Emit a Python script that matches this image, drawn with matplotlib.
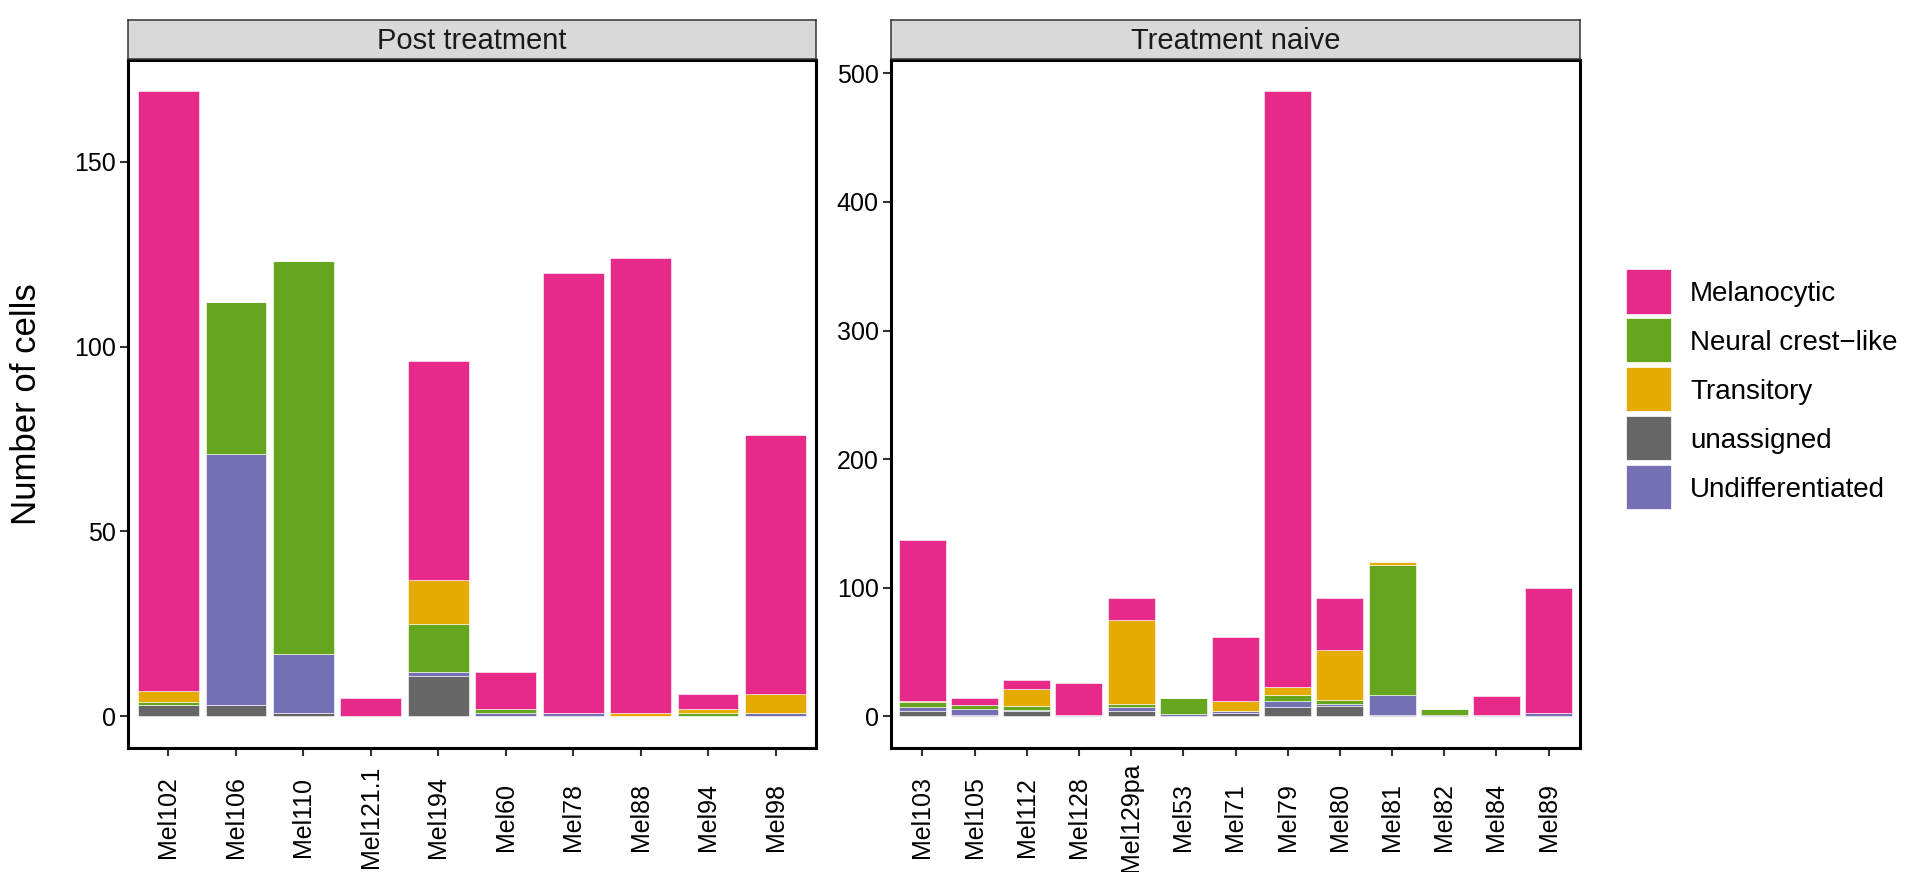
import matplotlib
matplotlib.use("Agg")
import matplotlib.pyplot as plt
from matplotlib.patches import Rectangle

plt.rcParams['font.family'] = ['Liberation Sans', 'DejaVu Sans']

# ---------------- data ----------------
cell_types = ["Melanocytic", "Neural crest\u2212like", "Transitory", "unassigned", "Undifferentiated"]
colors = ["#E7298A", "#66A61E", "#E6AB02", "#666666", "#7570B3"]
stack_order = ["unassigned", "Undifferentiated", "Neural crest\u2212like", "Transitory", "Melanocytic"]

post_samples = ["Mel102", "Mel106", "Mel110", "Mel121.1", "Mel194", "Mel60", "Mel78", "Mel88", "Mel94", "Mel98"]
post_unassigned = [3, 3, 1, 0, 11, 0, 0, 0, 0, 0]
post_undiff     = [0, 68, 16, 0, 1, 1, 1, 0, 0, 1]
post_neural     = [1, 41, 106, 0, 13, 1, 0, 0, 1, 0]
post_transitory = [3, 0, 0, 0, 12, 0, 0, 1, 1, 5]
post_melano     = [162, 0, 0, 5, 59, 10, 119, 123, 4, 70]

naive_samples = ["Mel103", "Mel105", "Mel112", "Mel128", "Mel129pa", "Mel53", "Mel71", "Mel79", "Mel80", "Mel81", "Mel82", "Mel84", "Mel89"]
naive_unassigned = [4, 1, 4, 0, 4, 0, 3, 7, 8, 1, 0, 0, 0]
naive_undiff     = [3, 5, 1, 1, 3, 2, 1, 5, 2, 16, 1, 1, 3]
naive_neural     = [4, 3, 3, 0, 3, 12, 0, 5, 3, 101, 5, 0, 0]
naive_transitory = [1, 0, 13, 0, 65, 0, 8, 6, 39, 2, 0, 0, 0]
naive_melano     = [125, 5, 7, 25, 17, 0, 50, 463, 40, 0, 0, 15, 97]

panels = [
    ("Post treatment", post_samples, {
        "unassigned": post_unassigned, "Undifferentiated": post_undiff,
        "Neural crest\u2212like": post_neural, "Transitory": post_transitory,
        "Melanocytic": post_melano}, [0, 50, 100, 150]),
    ("Treatment naive", naive_samples, {
        "unassigned": naive_unassigned, "Undifferentiated": naive_undiff,
        "Neural crest\u2212like": naive_neural, "Transitory": naive_transitory,
        "Melanocytic": naive_melano}, [0, 100, 200, 300, 400, 500]),
]

color_of = dict(zip(cell_types, colors))

W, H = 1907, 872
fig = plt.figure(figsize=(W / 100, H / 100), dpi=100)

def fx(px):
    return px / W

def fy(py):
    return 1 - py / H

PT = 0.72  # points per pixel at 100 dpi

boxes = [(128, 816), (891, 1580)]
top_px, bot_px = 60, 747.7
strip_top = 20
tick_len_px = 8
label_center_px = 817

for (title, samples, data, yticks), (x0, x1) in zip(panels, boxes):
    ax = fig.add_axes([fx(x0), fy(bot_px), fx(x1) - fx(x0), fy(top_px) - fy(bot_px)])
    n = len(samples)
    xs = list(range(1, n + 1))
    bottom = [0] * n
    for ct in stack_order:
        vals = data[ct]
        ax.bar(xs, vals, width=0.9, bottom=bottom, color=color_of[ct],
               edgecolor="white", linewidth=0.4)
        bottom = [b + v for b, v in zip(bottom, vals)]
    total_max = max(bottom)
    pad = total_max * 0.05
    ax.set_ylim(-pad, total_max + pad)
    ax.set_xlim(0.4, n + 0.6)
    ax.set_xticks(xs)
    ax.set_xticklabels(samples, rotation=90, fontsize=18, color="black")
    for lab in ax.get_xticklabels():
        lab.set_va("center")
    ax.set_yticks(yticks)
    ax.set_yticklabels([str(t) for t in yticks], fontsize=18, color="black")
    ax.tick_params(axis="both", length=tick_len_px * PT, width=1.5, color="#333333")
    ax.tick_params(axis="y", pad=3)
    ax.tick_params(axis="x", pad=(label_center_px - bot_px - tick_len_px) * PT)
    for sp in ax.spines.values():
        sp.set_linewidth(2.2)
        sp.set_color("black")
    # strip
    sax = fig.add_axes([fx(x0), fy(top_px - 1), fx(x1) - fx(x0), fy(strip_top) - fy(top_px - 1)])
    sax.set_xticks([])
    sax.set_yticks([])
    sax.set_facecolor("#D9D9D9")
    for sp in sax.spines.values():
        sp.set_linewidth(1.1)
        sp.set_color("#333333")
    sax.text(0.5, 0.47, title, ha="center", va="center", fontsize=21, color="#1A1A1A",
             transform=sax.transAxes)

fig.text(fx(27), fy((top_px + bot_px) / 2), "Number of cells", rotation=90,
         ha="center", va="center", fontsize=25)

# legend drawn manually
key_x0, key_w, key_h, key_top, key_pitch = 1626, 45, 44.5, 269, 48.9
for i, (name, col) in enumerate(zip(cell_types, colors)):
    ytop = key_top + i * key_pitch
    fig.patches.append(Rectangle((fx(key_x0), fy(ytop + key_h)), fx(key_w), key_h / H,
                                 transform=fig.transFigure, facecolor=col,
                                 edgecolor="white", linewidth=0.5))
    fig.text(fx(1690), fy(ytop + key_h / 2), name, ha="left", va="center_baseline",
             fontsize=20, color="black")

fig.savefig("out.png", dpi=100)
